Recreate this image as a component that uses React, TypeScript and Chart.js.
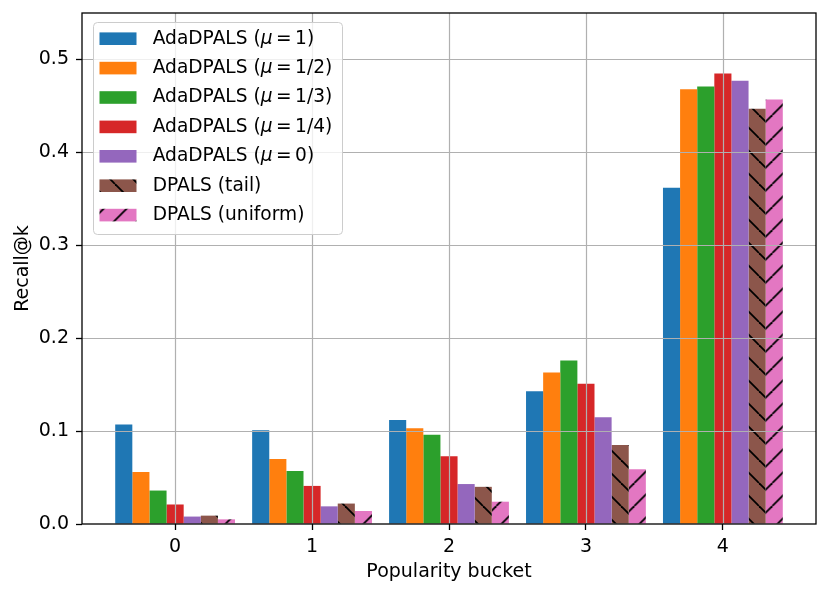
import React, { useEffect, useRef } from 'react';
import { Chart, registerables } from 'chart.js';
Chart.register(...registerables);

const FONT = 'DejaVu Sans';
const FS = 19;
const LFS = 18.6;

const buckets = [0, 1, 2, 3, 4];
const yTicks = [0, 0.1, 0.2, 0.3, 0.4, 0.5];

const seriesLabels = [
  'AdaDPALS (μ = 1)',
  'AdaDPALS (μ = 1/2)',
  'AdaDPALS (μ = 1/3)',
  'AdaDPALS (μ = 1/4)',
  'AdaDPALS (μ = 0)',
  'DPALS (tail)',
  'DPALS (uniform)',
];

const mu1 = [0.107, 0.101, 0.112, 0.143, 0.362];
const mu12 = [0.056, 0.070, 0.103, 0.163, 0.468];
const mu13 = [0.036, 0.057, 0.096, 0.176, 0.471];
const mu14 = [0.021, 0.041, 0.073, 0.151, 0.485];
const mu0 = [0.008, 0.019, 0.043, 0.115, 0.477];
const tail = [0.009, 0.022, 0.040, 0.085, 0.447];
const uniform = [0.005, 0.014, 0.024, 0.059, 0.457];

const seriesValues = [mu1, mu12, mu13, mu14, mu0, tail, uniform];
const colors = ['#1f77b4', '#ff7f0e', '#2ca02c', '#d62728', '#9467bd', '#8c564b', '#e377c2'];
const hatches: (string | null)[] = [null, null, null, null, null, '\\', '/'];

const S = 23;

function makeHatch(color: string, dir: string): CanvasPattern {
  const c = document.createElement('canvas');
  c.width = S;
  c.height = S;
  const g = c.getContext('2d')!;
  g.fillStyle = color;
  g.fillRect(0, 0, S, S);
  g.strokeStyle = '#000';
  g.lineWidth = 1.8;
  for (let k = -1; k <= 1; k++) {
    g.beginPath();
    if (dir === '\\') {
      g.moveTo(k * S, 0);
      g.lineTo(k * S + S, S);
    } else {
      g.moveTo(k * S, S);
      g.lineTo(k * S + S, 0);
    }
    g.stroke();
  }
  return g.createPattern(c, 'repeat')!;
}

export default function App() {
  const ref = useRef<HTMLCanvasElement>(null);
  useEffect(() => {
    const canvas = ref.current!;
    const fills: (string | CanvasPattern)[] = colors.map((c, i) =>
      hatches[i] ? makeHatch(c, hatches[i] as string) : c
    );
    const pinkPattern = fills[6] as CanvasPattern;

    const overlay = {
      id: 'overlay',
      beforeDatasetsDraw(chart: any) {
        const meta = chart.getDatasetMeta(6);
        const el = meta.data[4];
        if (el && pinkPattern.setTransform) {
          const b = el.x - el.width / 2;
          const dx = (((2 * b) % S) + S) % S;
          pinkPattern.setTransform(new DOMMatrix().translate(dx, 0));
        }
      },
      afterDatasetsDraw(chart: any) {
        const { ctx, chartArea: a } = chart;
        const xs = chart.scales.x;
        const ys = chart.scales.y;
        ctx.save();
        ctx.strokeStyle = '#b0b0b0';
        ctx.lineWidth = 1.2;
        xs.ticks.forEach((t: any) => {
          const px = Math.round(xs.getPixelForValue(t.value)) + 0.5;
          ctx.beginPath();
          ctx.moveTo(px, a.top);
          ctx.lineTo(px, a.bottom);
          ctx.stroke();
        });
        ys.ticks.forEach((t: any) => {
          if (t.value === 0) return;
          const py = Math.round(ys.getPixelForValue(t.value)) + 0.5;
          ctx.beginPath();
          ctx.moveTo(a.left, py);
          ctx.lineTo(a.right, py);
          ctx.stroke();
        });
        ctx.strokeStyle = '#000';
        ctx.lineWidth = 1.3;
        ctx.strokeRect(a.left, a.top, a.right - a.left, a.bottom - a.top);
        ctx.restore();
      },
      afterDraw(chart: any) {
        const { ctx, chartArea: a } = chart;
        const bx = a.left + 11;
        const by = a.top + 9;
        const bw = 249;
        const bh = 212;
        ctx.save();
        ctx.beginPath();
        ctx.roundRect(bx + 0.5, by + 0.5, bw, bh, 4);
        ctx.fillStyle = 'rgba(255,255,255,0.8)';
        ctx.fill();
        ctx.strokeStyle = '#cccccc';
        ctx.lineWidth = 1;
        ctx.stroke();
        const gap = 3.5;
        seriesLabels.forEach((label, i) => {
          const cy = by + 16.7 + i * 29.4;
          ctx.fillStyle = fills[i];
          ctx.fillRect(bx + 6.5, cy - 6.3, 37, 12.6);
          ctx.textBaseline = 'middle';
          ctx.textAlign = 'left';
          ctx.fillStyle = '#000';
          let x = bx + 59.7;
          const draw = (s: string, italic = false) => {
            ctx.font = `${italic ? 'italic ' : ''}${LFS}px "${FONT}"`;
            ctx.fillText(s, x, cy);
            x += ctx.measureText(s).width;
          };
          const mi = label.indexOf('μ');
          if (mi < 0) {
            draw(label);
          } else {
            draw(label.slice(0, mi));
            draw('μ', true);
            const rest = label.slice(mi + 1).trim();
            const eq = rest.indexOf('=');
            x += gap;
            draw('=');
            x += gap;
            draw(rest.slice(eq + 1).trim());
          }
        });
        ctx.restore();
      },
    };

    const font = { family: FONT, size: FS };
    const chart = new Chart(canvas, {
      type: 'bar',
      data: {
        datasets: seriesValues.map((vals, i) => ({
          label: seriesLabels[i],
          data: buckets.map((b, j) => ({ x: b, y: vals[j] })),
          backgroundColor: fills[i] as any,
          borderWidth: 0,
          categoryPercentage: 0.875,
          barPercentage: 1.0,
        })),
      },
      options: {
        animation: false,
        responsive: false,
        devicePixelRatio: 1,
        events: [],
        layout: { padding: { left: 0, top: 13, right: 14, bottom: 0 } },
        plugins: { legend: { display: false }, tooltip: { enabled: false } },
        scales: {
          x: {
            type: 'linear',
            min: -0.68,
            max: 4.68,
            offset: false,
            afterBuildTicks: (s: any) => {
              s.ticks = buckets.map((v) => ({ value: v }));
            },
            ticks: {
              callback: (v: any) => String(v),
              font,
              color: '#000',
              padding: 6,
              autoSkip: false,
              maxRotation: 0,
            },
            grid: { drawOnChartArea: false, offset: false, tickLength: 6, tickColor: '#000', tickWidth: 1.3 },
            border: { display: false },
            title: { display: true, text: 'Popularity bucket', font, color: '#000', padding: { top: 0, bottom: 12 } },
            afterFit: (s: any) => {
              s.height = 71;
              s.paddingLeft = 0;
              s.paddingRight = 0;
            },
          } as any,
          y: {
            type: 'linear',
            min: 0,
            max: 0.55,
            afterBuildTicks: (s: any) => {
              s.ticks = yTicks.map((v) => ({ value: v }));
            },
            ticks: {
              callback: (v: any) => Number(v).toFixed(1),
              font,
              color: '#000',
              padding: 7,
            },
            grid: { drawOnChartArea: false, tickLength: 6, tickColor: '#000', tickWidth: 1.3 },
            border: { display: false },
            title: { display: true, text: 'Recall@k', font, color: '#000', padding: { top: 12, bottom: 0 } },
            afterFit: (s: any) => {
              s.width = 82;
              s.paddingTop = 0;
              s.paddingBottom = 0;
            },
          } as any,
        },
      },
      plugins: [overlay],
    });
    return () => chart.destroy();
  }, []);
  return (
    <div style={{ position: 'fixed', left: 0, top: 0, width: 830, height: 595, background: '#fff' }}>
      <canvas ref={ref} width={830} height={595} style={{ display: 'block' }} />
    </div>
  );
}
